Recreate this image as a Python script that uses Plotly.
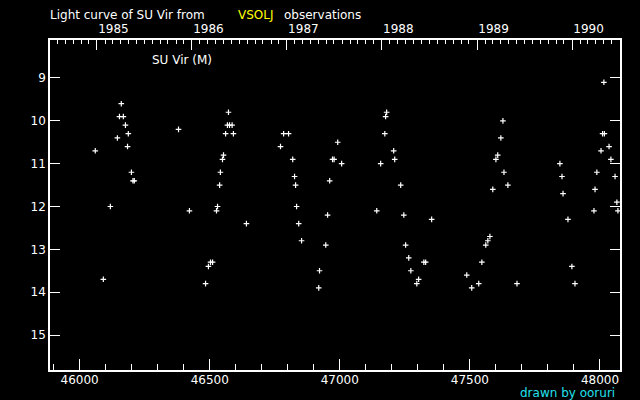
import datetime
import plotly.graph_objects as go

# Julian date - 2400000 and visual magnitude of SU Vir (VSOLJ)
jd = [46060, 46091, 46118, 46145, 46153, 46160, 46168, 46176, 46184, 46187,
      46199, 46205, 46210, 46380, 46422, 46484, 46495, 46503, 46511, 46526,
      46530, 46538, 46541, 46549, 46553, 46561, 46568, 46572, 46576, 46586,
      46591, 46641, 46772, 46784, 46803, 46819, 46826, 46830, 46834, 46842,
      46853, 46919, 46922, 46946, 46953, 46961, 46972, 46978, 46992, 47007,
      47142, 47157, 47173, 47176, 47180, 47207, 47211, 47234, 47246, 47253,
      47265, 47273, 47296, 47303, 47323, 47330, 47353, 47488, 47507, 47534,
      47546, 47561, 47569, 47577, 47588, 47600, 47607, 47619, 47627, 47631,
      47646, 47681, 47846, 47854, 47858, 47877, 47892, 47904, 47977, 47981,
      47988, 48004, 48010, 48015, 48017, 48035, 48042, 48058, 48065, 48069]
mag = [10.7, 13.7, 12.0, 10.4, 9.9, 9.6, 9.9, 10.1, 10.6, 10.3,
       11.2, 11.4, 11.4, 10.2, 12.1, 13.8, 13.4, 13.3, 13.3, 12.1,
       12.0, 11.5, 11.2, 10.9, 10.8, 10.3, 10.1, 9.8, 10.1, 10.1,
       10.3, 12.4, 10.6, 10.3, 10.3, 10.9, 11.3, 11.5, 12.0, 12.4,
       12.8, 13.9, 13.5, 12.9, 12.2, 11.4, 10.9, 10.9, 10.5, 11.0,
       12.1, 11.0, 10.3, 9.9, 9.8, 10.7, 10.9, 11.5, 12.2, 12.9,
       13.2, 13.5, 13.8, 13.7, 13.3, 13.3, 12.3, 13.6, 13.9, 13.8,
       13.3, 12.9, 12.8, 12.7, 11.6, 10.9, 10.8, 10.4, 10.0, 11.2,
       11.5, 13.8, 11.0, 11.3, 11.7, 12.3, 13.4, 13.8, 12.1, 11.6,
       11.2, 10.7, 10.3, 9.1, 10.3, 10.6, 10.9, 11.3, 11.9, 12.1]

x_major = [46000, 46500, 47000, 47500, 48000]
x_minor = list(range(45900, 48001, 100))
y_ticks = [9, 10, 11, 12, 13, 14, 15]
years = [1985, 1986, 1987, 1988, 1989, 1990]

X_RANGE = [45886, 48077]
Y_RANGE = [15.817, 8.113]


def jd_of(date):
    # JD - 2400000 = MJD + 0.5
    return (date - datetime.date(1858, 11, 17)).days + 0.5


year_jd = [jd_of(datetime.date(y, 1, 1)) for y in years]
month_jd = []
for y in range(1984, 1992):
    for m in range(1, 13):
        v = jd_of(datetime.date(y, m, 1))
        if X_RANGE[0] <= v <= X_RANGE[1] and m != 1:
            month_jd.append(v)

FONT = "DejaVu Sans"

fig = go.Figure()
fig.add_trace(go.Scatter(
    x=jd, y=mag, mode="markers",
    marker=dict(symbol="cross-thin", size=4, color="white",
                line=dict(color="white", width=1.2)),
    hoverinfo="skip", showlegend=False))
fig.add_trace(go.Scatter(x=[X_RANGE[0]], y=[Y_RANGE[0]], xaxis="x2", mode="markers",
                         marker=dict(opacity=0), hoverinfo="skip", showlegend=False))

fig.update_layout(
    width=640, height=400,
    paper_bgcolor="black", plot_bgcolor="black",
    margin=dict(l=50, r=20, t=40, b=30),
    font=dict(family=FONT, size=12, color="white"),
    xaxis=dict(
        range=X_RANGE, showgrid=False, zeroline=False,
        showline=True, linecolor="white", linewidth=1.5,
        tickvals=x_major, ticktext=[str(v) for v in x_major],
        ticks="inside", ticklen=11, tickcolor="white", tickwidth=1,
        ticklabelstandoff=-2,
        minor=dict(tickvals=x_minor, ticks="inside", ticklen=6,
                   tickcolor="white", tickwidth=1, showgrid=False),
        tickfont=dict(family=FONT, size=12, color="white"),
    ),
    xaxis2=dict(
        range=X_RANGE, overlaying="x", side="top", showgrid=False, zeroline=False,
        showline=True, linecolor="white", linewidth=1.5,
        tickvals=year_jd, ticktext=[str(y) for y in years],
        ticks="inside", ticklen=10, tickcolor="white", tickwidth=1,
        ticklabelposition="outside right",
        minor=dict(tickvals=month_jd, ticks="inside", ticklen=4,
                   tickcolor="white", tickwidth=1, showgrid=False),
        tickfont=dict(family=FONT, size=12, color="white"),
    ),
    yaxis=dict(
        range=Y_RANGE, showgrid=False, zeroline=False,
        showline=True, linecolor="white", linewidth=1.5, mirror="ticks",
        tickvals=y_ticks, ticktext=[str(v) for v in y_ticks],
        ticks="inside", ticklen=10, tickcolor="white", tickwidth=1,
        tickfont=dict(family=FONT, size=12, color="white"),
    ),
    annotations=[
        dict(text="Light curve of SU Vir from", xref="paper", yref="paper",
             x=-0.004, y=1.0758, xanchor="left", yanchor="middle", showarrow=False,
             font=dict(family=FONT, size=12, color="white")),
        dict(text="VSOLJ", xref="paper", yref="paper",
             x=0.3263, y=1.0758, xanchor="left", yanchor="middle", showarrow=False,
             font=dict(family=FONT, size=12, color="#ffff00")),
        dict(text="observations", xref="paper", yref="paper",
             x=0.407, y=1.0758, xanchor="left", yanchor="middle", showarrow=False,
             font=dict(family=FONT, size=12, color="white")),
        dict(text="SU Vir (M)", xref="paper", yref="paper",
             x=0.1754, y=0.9394, xanchor="left", yanchor="middle", showarrow=False,
             font=dict(family=FONT, size=12, color="white")),
        dict(text="drawn by ooruri", xref="paper", yref="paper",
             x=0.9947, y=-0.069, xanchor="right", yanchor="middle", showarrow=False,
             font=dict(family=FONT, size=12, color="#22e0ee")),
    ],
)

fig.write_html("out.html",
               config={"displayModeBar": False},
               post_script="document.body.style.margin='0px';"
                           "document.body.style.background='black';")
